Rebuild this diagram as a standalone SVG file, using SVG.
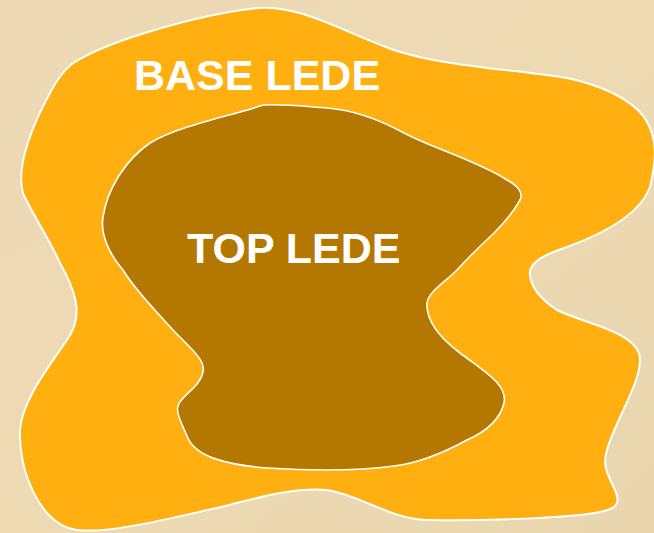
<svg xmlns="http://www.w3.org/2000/svg" width="654" height="533" viewBox="0 0 654 533">
  <defs>
    <linearGradient id="bg" x1="0" y1="0" x2="1" y2="1">
      <stop offset="0" stop-color="#ECD8B4"/>
      <stop offset="0.5" stop-color="#EDDAB3"/>
      <stop offset="1" stop-color="#E9D6AF"/>
    </linearGradient>
    <style>
      .blob { stroke: #FFFFFF; stroke-linejoin: round; }
      .outer { fill: #FFAF10; stroke-width: 2; }
      .inner { fill: #B47700; stroke-width: 1.6; }
      .label { font-family: "Liberation Sans", Arial, sans-serif; font-weight: bold; font-size: 43px; fill: #FFFFFF; }
    </style>
  </defs>

  <!-- backdrop -->
  <rect x="0" y="0" width="654" height="533" fill="url(#bg)"/>

  <!-- outer region -->
  <g id="base-lede">
    <path class="blob outer" d="M 75,62
      C 110,40 200,14 258,8
      C 300,4 350,35 394,50
      C 440,66 520,70 567,78
      C 600,85 630,98 644,117
      C 660,140 655,165 650,187
      C 640,215 600,235 567,247
      C 540,256 528,264 530,276
      C 532,290 545,302 557,310
      C 580,322 630,330 639,353
      C 646,375 615,420 607,450
      C 600,470 615,485 617,496
      C 620,507 610,510 600,512
      C 570,518 490,521 427,520
      C 390,519 360,495 327,490
      C 290,487 250,500 217,508
      C 170,518 110,534 77,530
      C 40,525 18,470 20,430
      C 22,400 50,365 67,340
      C 85,315 75,290 60,263
      C 50,240 30,210 23,193
      C 15,165 35,120 50,93
      C 58,78 65,68 75,62 Z"/>
    <text class="label" x="134" y="90">BASE LEDE</text>
  </g>

  <!-- inner region -->
  <g id="top-lede">
    <path class="blob inner" d="M 263,105
      C 285,104 300,106 327,108
      C 355,110 380,120 404,133
      C 430,147 480,162 507,180
      C 517,185 524,193 520,200
      C 513,213 505,222 494,233
      C 480,246 468,258 457,270
      C 445,282 428,292 427,303
      C 426,322 440,338 460,353
      C 485,372 508,385 504,403
      C 500,420 485,432 467,440
      C 445,452 420,463 394,466
      C 350,472 300,470 267,468
      C 230,465 195,458 187,436
      C 180,420 176,412 178,406
      C 181,395 200,388 203,372
      C 206,360 190,348 173,330
      C 155,310 135,290 123,270
      C 110,255 100,235 103,217
      C 107,190 125,160 150,143
      C 180,125 235,115 263,105 Z"/>
    <text class="label" x="187" y="263">TOP LEDE</text>
  </g>
</svg>
